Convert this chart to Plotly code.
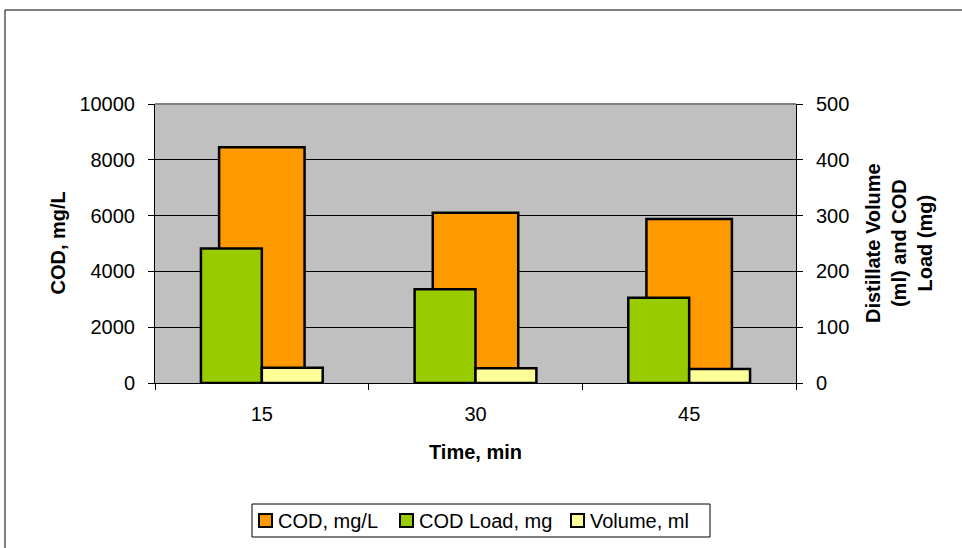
import plotly.graph_objects as go

categories = ["15", "30", "45"]
cod_mg_l = [8450, 6100, 5880]
cod_load_mg = [241, 168, 153]
volume_ml = [27.5, 26.5, 25]

series_names = ["COD, mg/L", "COD Load, mg", "Volume, ml"]
series_colors = ["#FF9900", "#99CC00", "#FFFF99"]

FONT = "Liberation Sans, Arial, sans-serif"
FS = 20
fig = go.Figure()

fig.add_trace(go.Bar(
    x=categories, y=cod_mg_l, name=series_names[0],
    marker=dict(color=series_colors[0], line=dict(color="black", width=2.5)),
    width=0.4, offset=-0.2, yaxis="y"))
fig.add_trace(go.Bar(
    x=categories, y=cod_load_mg, name=series_names[1],
    marker=dict(color=series_colors[1], line=dict(color="black", width=2.5)),
    width=0.285, offset=-0.285, yaxis="y2"))
fig.add_trace(go.Bar(
    x=categories, y=volume_ml, name=series_names[2],
    marker=dict(color=series_colors[2], line=dict(color="black", width=2.5)),
    width=0.285, offset=0.0, yaxis="y2"))

L, R, T, B = 155, 166, 104, 165
W, H = 962, 548
pw, ph = W - L - R, H - T - B

def px(x):
    return (x - L) / pw

def py(y):
    return (H - B - y) / ph

fig.update_layout(
    width=W, height=H,
    margin=dict(l=L, r=R, t=T, b=B, pad=0),
    paper_bgcolor="white", plot_bgcolor="#C0C0C0",
    barmode="overlay",
    font=dict(family=FONT, size=FS, color="black"),
    showlegend=False,
    xaxis=dict(type="category", showline=True, linecolor="black", linewidth=1,
               ticks="outside", ticklen=6, tickcolor="black", tickson="boundaries",
               ticklabelstandoff=13, showgrid=False, range=[-0.5, 2.5]),
    yaxis=dict(range=[0, 10000], dtick=2000, tickformat="d", showline=True, linecolor="black",
               linewidth=1, ticks="outside", ticklen=6, tickcolor="black", ticklabelstandoff=9,
               showgrid=True, gridcolor="black", gridwidth=1, zeroline=False),
    yaxis2=dict(range=[0, 500], dtick=100, tickformat="d", overlaying="y", side="right",
                showline=True, linecolor="black", linewidth=1, ticks="outside", ticklen=6,
                tickcolor="black", ticklabelstandoff=9, showgrid=False, zeroline=False),
)

fig.add_annotation(text="<b>COD, mg/L</b>", xref="paper", yref="paper", x=px(57), y=py(243.5),
                   textangle=-90, showarrow=False, font=dict(size=FS, family=FONT),
                   xanchor="center", yanchor="middle")
fig.add_annotation(text="<b>Time, min</b>", xref="paper", yref="paper", x=px(475.5), y=py(452),
                   showarrow=False, font=dict(size=FS, family=FONT),
                   xanchor="center", yanchor="middle")
fig.add_annotation(text="<b>Distillate Volume<br>(ml) and COD<br>Load (mg)</b>", xref="paper",
                   yref="paper", x=px(899), y=py(243), textangle=-90, showarrow=False,
                   font=dict(size=FS, family=FONT), xanchor="center", yanchor="middle")

# plot area top border (gray)
fig.add_shape(type="line", xref="paper", yref="paper", x0=0, x1=1, y0=1, y1=1,
              line=dict(color="#808080", width=2))
# outer chart border
fig.add_shape(type="rect", xref="paper", yref="paper", x0=px(5), x1=px(975), y0=py(10), y1=py(560),
              line=dict(color="black", width=1), layer="below")

# custom legend (box, swatches, labels)
fig.add_shape(type="rect", xref="paper", yref="paper", x0=px(252), x1=px(710), y0=py(504), y1=py(537),
              line=dict(color="black", width=1), fillcolor="white", layer="below")
swatch_x = [259, 400, 571]
for sx, name, col in zip(swatch_x, series_names, series_colors):
    fig.add_shape(type="rect", xref="paper", yref="paper", x0=px(sx), x1=px(sx + 13),
                  y0=py(514), y1=py(527), line=dict(color="black", width=2), fillcolor=col)
    fig.add_annotation(text=name, xref="paper", yref="paper", x=px(sx + 17), y=py(520.5),
                       showarrow=False, xanchor="left", yanchor="middle",
                       font=dict(size=FS, family=FONT))

fig.write_html("out.html")
